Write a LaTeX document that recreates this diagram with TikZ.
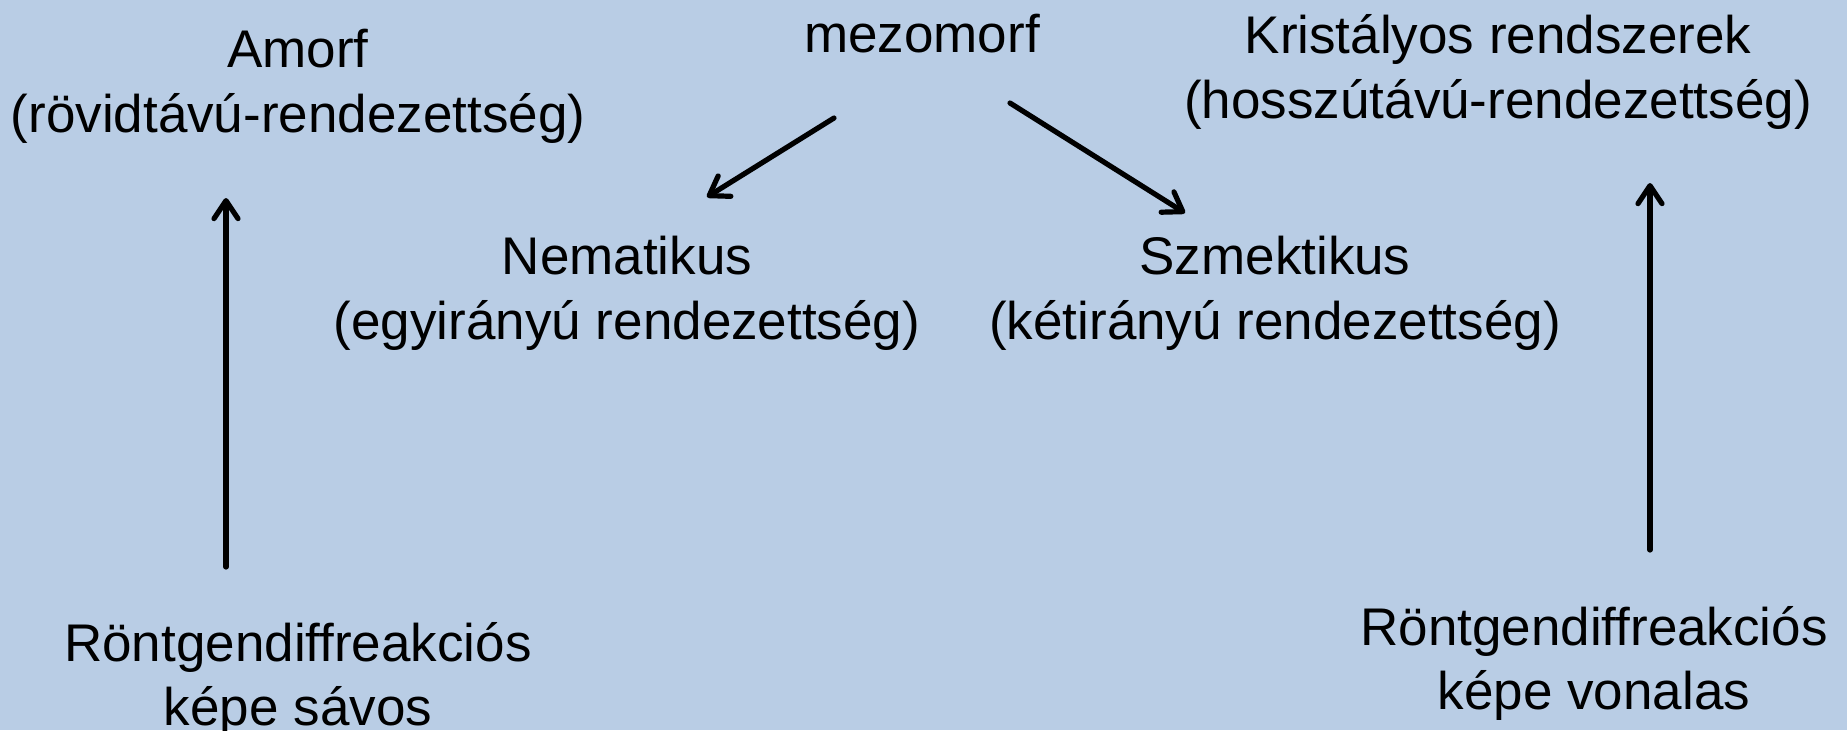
\documentclass[tikz,border=0pt]{standalone}
\usepackage{fontspec}
\setmainfont{Liberation Sans}
\usetikzlibrary{arrows.meta}
\definecolor{bgblue}{RGB}{185,205,229}
\begin{document}
\begin{tikzpicture}[x=0.5pt,y=-0.5pt,
  lbl/.style={anchor=base,inner sep=0pt,font=\fontsize{26.5pt}{32pt}\selectfont,text=black},
  conn/.style={line width=2.6pt,line cap=round,-{Straight Barb[length=9pt,width=12pt,line cap=round,line join=round]}}]
\fill[bgblue] (0,0) rectangle (1847,730);
\useasboundingbox (0,0) rectangle (1847,730);
% top row
\node[lbl] (amorf1) at (298,67) {Amorf};
\node[lbl] (amorf2) at (298,132) {(rövidtávú-rendezettség)};
\node[lbl] (mezo) at (922,52) {mezomorf};
\node[lbl] (krist1) at (1498,53) {Kristályos rendszerek};
\node[lbl] (krist2) at (1498,118) {(hosszútávú-rendezettség)};
% middle row
\node[lbl] (nem1) at (627,274) {Nematikus};
\node[lbl] (nem2) at (627,339) {(egyirányú rendezettség)};
\node[lbl] (szm1) at (1275,274) {Szmektikus};
\node[lbl] (szm2) at (1275,339) {(kétirányú rendezettség)};
% bottom row
\node[lbl] (rl1) at (298,661) {Röntgendiffreakciós};
\node[lbl] (rl2) at (298,725) {képe sávos};
\node[lbl] (rr1) at (1594,645) {Röntgendiffreakciós};
\node[lbl] (rr2) at (1594,709) {képe vonalas};
% connector ends
\coordinate (m1s) at (834,118);
\coordinate (m1e) at (707,197);
\coordinate (m2s) at (1010,103);
\coordinate (m2e) at (1185,213);
\coordinate (vls) at (226,567);
\coordinate (vle) at (226,198);
\coordinate (vrs) at (1650,550);
\coordinate (vre) at (1650,183);
\draw[conn] (m1s) -- (m1e);
\draw[conn] (m2s) -- (m2e);
\draw[conn] (vls) -- (vle);
\draw[conn] (vrs) -- (vre);
\end{tikzpicture}
\end{document}
